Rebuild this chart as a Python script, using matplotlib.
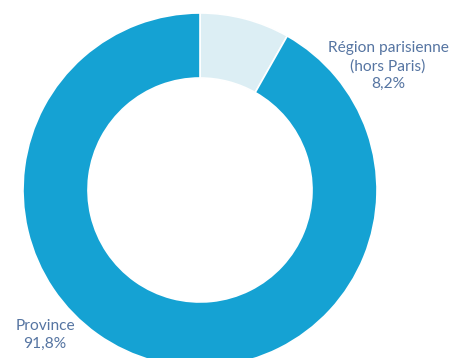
import matplotlib.pyplot as plt

# Répartition géographique
labels = ["Région parisienne\n(hors Paris)", "Province"]
shares = [8.2, 91.8]
colors = ["#DCEEF4", "#15A2D3"]

W, H = 456, 358
fig = plt.figure(figsize=(W / 100, H / 100), dpi=100)
ax = fig.add_axes([0, 0, 1, 1])

ax.pie(shares, colors=colors, startangle=90, counterclock=False,
       center=(200, H - 190), radius=177,
       wedgeprops=dict(width=65, edgecolor="white", linewidth=1.2))

# pie() resets the limits, so fix them afterwards (pixel units)
ax.set_xlim(0, W)
ax.set_ylim(0, H)
ax.set_aspect("equal")
ax.axis("off")

txt = dict(color="#5675A2", fontsize=11.2, family="Lato",
           ha="center", va="center", linespacing=1.3)
ax.text(388, H - 66, f"{labels[0]}\n{shares[0]:.1f}%".replace(".", ","), **txt)
ax.text(45, H - 335, f"{labels[1]}\n{shares[1]:.1f}%".replace(".", ","), **txt)

fig.savefig("out.png", dpi=100)
